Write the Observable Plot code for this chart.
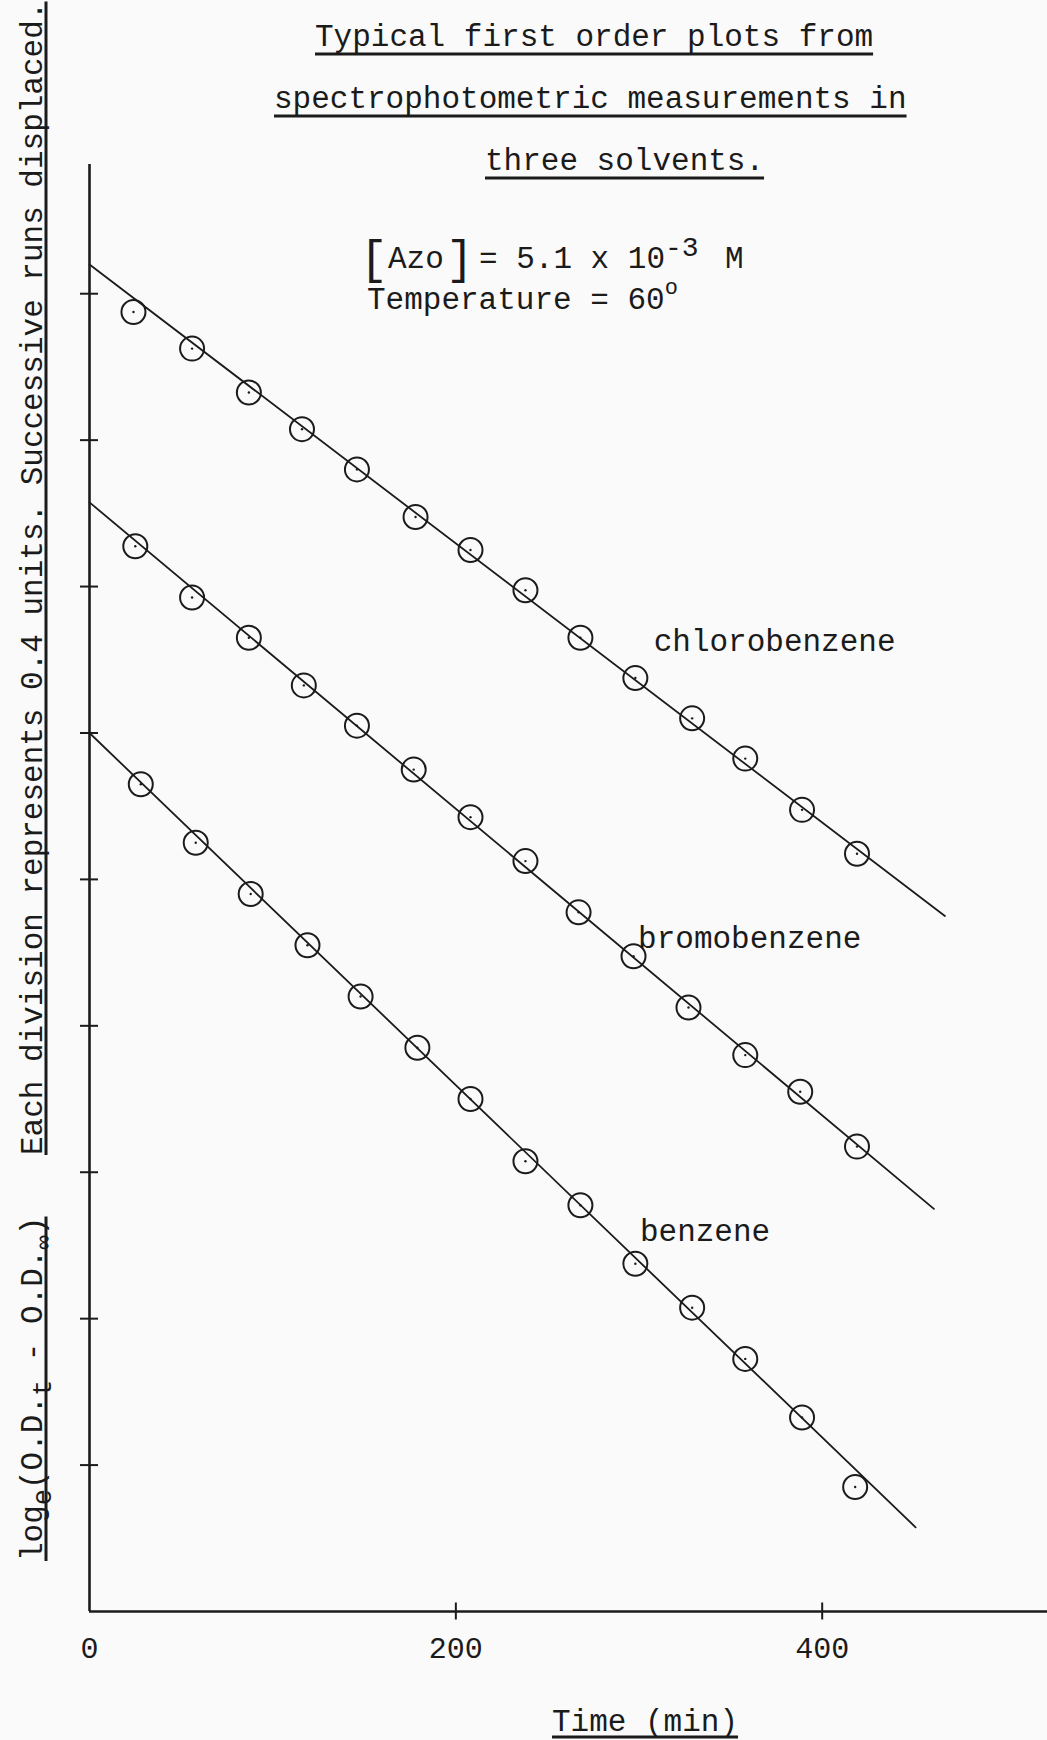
<!DOCTYPE html>
<html>
<head>
<meta charset="utf-8">
<script src="https://cdn.jsdelivr.net/npm/d3@7"></script>
<script src="https://cdn.jsdelivr.net/npm/@observablehq/plot@0.6"></script>
<style>
  html, body { margin: 0; padding: 0; background: #fafafa; }
  #chart { width: 1047px; height: 1740px; }
</style>
</head>
<body>
<div id="chart"></div>
<script>
// ---------- data ----------
const seriesNames = ["chlorobenzene", "bromobenzene", "benzene"];

const chloroTime  = [24, 56, 87, 116, 146, 178, 208, 238, 268, 298, 329, 358, 389, 419];
const chloroValue = [3.55, 3.45, 3.33, 3.23, 3.12, 2.99, 2.90, 2.79, 2.66, 2.55, 2.44, 2.33, 2.19, 2.07];

const bromoTime  = [25, 56, 87, 117, 146, 177, 208, 238, 267, 297, 327, 358, 388, 419];
const bromoValue = [2.91, 2.77, 2.66, 2.53, 2.42, 2.30, 2.17, 2.05, 1.91, 1.79, 1.65, 1.52, 1.42, 1.27];

const benzTime  = [28, 58, 88, 119, 148, 179, 208, 238, 268, 298, 329, 358, 389, 418];
const benzValue = [2.26, 2.10, 1.96, 1.82, 1.68, 1.54, 1.40, 1.23, 1.11, 0.95, 0.83, 0.69, 0.53, 0.34];

// hand-drawn first order lines: start and end of each
const fitStartTime  = [0, 0, 0];
const fitStartValue = [3.68, 3.03, 2.40];
const fitEndTime    = [467, 461, 451];
const fitEndValue   = [1.90, 1.10, 0.23];

// series label positions (data units)
const labelTime  = [308, 299.5, 300.5];
const labelValue = [2.65, 1.84, 1.04];

// axes
const yTicks = [0.4, 0.8, 1.2, 1.6, 2.0, 2.4, 2.8, 3.2, 3.6];
const xTickMarks = [200, 400];
const xTickLabels = [0, 200, 400];

// texts
const titleLines = ["Typical first order plots from", "spectrophotometric measurements in", "three solvents."];
const xLabel = "Time (min)";
const yLabelRest = "Each division represents 0.4 units. Successive runs displaced.";

// ---------- tables built from the arrays ----------
const times = [chloroTime, bromoTime, benzTime];
const values = [chloroValue, bromoValue, benzValue];
const points = seriesNames.flatMap((s, i) => times[i].map((t, j) => ({series: s, t, v: values[i][j]})));
const fits = seriesNames.flatMap((s, i) => [
  {series: s, t: fitStartTime[i], v: fitStartValue[i]},
  {series: s, t: fitEndTime[i], v: fitEndValue[i]}
]);
const labels = seriesNames.map((s, i) => ({name: s, t: labelTime[i], v: labelValue[i]}));

const INK = "#1b1b1b";
const FONT = "'Liberation Mono', 'DejaVu Sans Mono', monospace";

const chart = Plot.plot({
  width: 1047,
  height: 1740,
  marginLeft: 89,
  marginRight: 0,
  marginTop: 164,
  marginBottom: 129,
  x: {domain: [0, 523]},
  y: {domain: [0, 3.953]},
  style: {background: "#fafafa", color: INK, fontFamily: FONT, fontSize: "30px"},
  marks: [
    Plot.axisY({ticks: yTicks, tickSize: 18, dx: 9, tickFormat: () => "", label: null, strokeWidth: 2}),
    Plot.axisX({ticks: xTickMarks, tickSize: 17, dy: -8.5, tickFormat: () => "", label: null, strokeWidth: 2}),
    Plot.axisX({ticks: xTickLabels, tickSize: 0, tickPadding: 25, label: null, fontSize: 30}),
    Plot.ruleX([0], {strokeWidth: 2.6}),
    Plot.ruleY([0], {strokeWidth: 2.6}),
    Plot.line(fits, {x: "t", y: "v", z: "series", strokeWidth: 1.8}),
    Plot.dot(points, {x: "t", y: "v", r: 12, strokeWidth: 2}),
    Plot.dot(points, {x: "t", y: "v", r: 1.2, fill: INK, stroke: null}),
    Plot.text(labels, {x: "t", y: "v", text: "name", textAnchor: "start", lineAnchor: "middle", fontSize: 31, fill: INK})
  ]
});
document.getElementById("chart").append(chart);

// ---------- annotations (titles, conditions, axis labels) ----------
const ann = d3.select(chart).append("g")
  .attr("font-family", FONT)
  .attr("fill", INK)
  .attr("text-anchor", "start")
  .style("white-space", "pre");

function richText({x, y, rotate = 0, size = 31, parts, underline = false, ulOffset = 7, ulWidth = 2.6}) {
  const g = ann.append("g").attr("transform", `translate(${x},${y})` + (rotate ? ` rotate(${rotate})` : ""));
  const text = g.append("text").attr("font-size", size).attr("x", 0).attr("y", 0).attr("text-anchor", "start");
  let cur = 0;
  for (const p of parts) {
    const ts = text.append("tspan").text(p.t);
    if (p.size) ts.attr("font-size", p.size);
    if (p.x != null) ts.attr("x", p.x);
    const s = p.shift || 0;
    if (s !== cur) { ts.attr("dy", s - cur); cur = s; }
  }
  if (underline) {
    const b = text.node().getBBox();
    g.append("line")
      .attr("x1", b.x).attr("x2", b.x + b.width)
      .attr("y1", ulOffset).attr("y2", ulOffset)
      .attr("stroke", INK).attr("stroke-width", ulWidth);
  }
  return g;
}

// title
richText({x: 315, y: 46, parts: [{t: titleLines[0]}], underline: true, ulOffset: 8, ulWidth: 3});
richText({x: 274, y: 108, parts: [{t: titleLines[1]}], underline: true, ulOffset: 8, ulWidth: 3});
richText({x: 485, y: 170, parts: [{t: titleLines[2]}], underline: true, ulOffset: 8, ulWidth: 3});

// conditions
richText({x: 367, y: 268, parts: [
  {t: "[", size: 46, x: -7, shift: 5},
  {t: "Azo", x: 21, shift: 0},
  {t: "]", size: 46, x: 79, shift: 5},
  {t: "= 5.1 x 10", x: 112, shift: 0},
  {t: "-3", size: 28, shift: -12},
  {t: "M", x: 358, shift: 0}
]});
richText({x: 367, y: 309, parts: [
  {t: "Temperature = 60"},
  {t: "o", size: 22, shift: -15}
]});

// x axis label
richText({x: 552, y: 1731, parts: [{t: xLabel}], underline: true, ulOffset: 6, ulWidth: 3});

// y axis label (rotated)
richText({x: 42, y: 1561, rotate: -90, parts: [
  {t: "log"},
  {t: "e", size: 27, shift: 9},
  {t: "(O.D.", shift: 0},
  {t: "t", size: 27, shift: 9},
  {t: " - O.D.", shift: 0},
  {t: "\u221E", size: 24, shift: 9},
  {t: ")", shift: 0}
], underline: true, ulOffset: 4, ulWidth: 3});
richText({x: 42, y: 1155, rotate: -90, parts: [{t: yLabelRest}], underline: true, ulOffset: 4, ulWidth: 3});
</script>
</body>
</html>
